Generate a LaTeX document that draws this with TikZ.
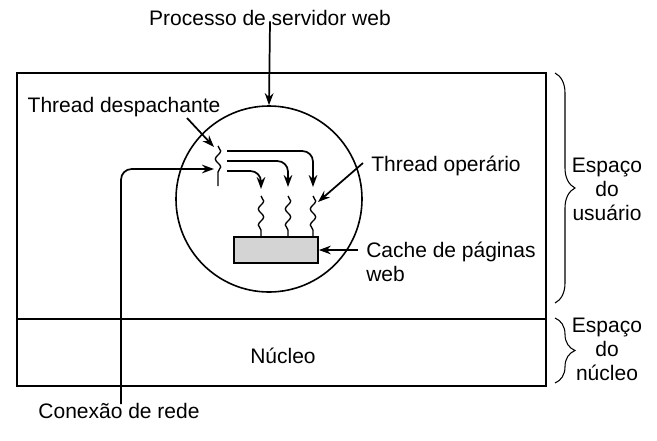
\documentclass[tikz,border=0pt]{standalone}
\usepackage{fontspec}
\setmainfont{Liberation Sans}
\usetikzlibrary{arrows.meta,decorations.pathmorphing,decorations.pathreplacing}
\begin{document}
\begin{tikzpicture}[x=0.75pt,y=-0.75pt,
  lbl/.style={font=\fontsize{15.75}{18}\selectfont, inner sep=0pt},
  arr/.style={line width=1.3pt, -{Stealth[length=9pt,width=6.5pt]}},
  box/.style={line width=1.5pt},
  wavy/.style={line width=1pt, decorate, decoration={snake, segment length=12pt, amplitude=2pt, post length=5pt}},
  brc/.style={line width=0.8pt, decorate, decoration={brace, amplitude=15pt}}
]
\useasboundingbox (0,0) rectangle (657,440);

% outer box
\draw[box] (16.5,73) rectangle (546,386);
\draw[box] (16.5,319) -- (546,319);

% process circle
\node[draw, circle, line width=1.2pt, minimum size=186*0.75pt, inner sep=0pt] (proc) at (269,199) {};

% labels
\node[lbl, anchor=base] (lproc) at (270,25) {Processo de servidor web};
\node[lbl, anchor=base] (ldisp) at (124,112) {Thread despachante};
\node[lbl, anchor=base west] (lwork) at (371,171) {Thread operário};
\node[lbl, anchor=north west, align=left] (lcache) at (366,241.5) {Cache de páginas\\web};
\node[lbl, anchor=base] (lnet) at (119,418) {Conexão de rede};
\node[lbl, anchor=base] (lker) at (283,363) {Núcleo};
\node[lbl, anchor=north, align=center] (luser) at (607,158) {Espaço\\do\\usuário};
\node[lbl, anchor=north, align=center] (lkspace) at (607,318) {Espaço\\do\\núcleo};

% braces
\coordinate (bu1) at (555,73);
\coordinate (bu2) at (555,303);
\coordinate (bk1) at (555,318);
\coordinate (bk2) at (555,383);
\draw[brc] (bu1) -- (bu2);
\draw[brc] (bk1) -- (bk2);

% cache
\node[draw, line width=1.3pt, fill=black!17, minimum width=84*0.75pt, minimum height=26*0.75pt, inner sep=0pt] (cache) at (276,250) {};

% dispatcher thread
\coordinate (d1) at (218,146);
\coordinate (d2) at (218,186);
\draw[wavy] (d1) -- (d2);

% worker threads
\coordinate (w1t) at (261,196); \coordinate (w1b) at (261,237);
\coordinate (w2t) at (288,196); \coordinate (w2b) at (288,237);
\coordinate (w3t) at (313,196); \coordinate (w3b) at (313,237);
\draw[wavy] (w1t) -- (w1b);
\draw[wavy] (w2t) -- (w2b);
\draw[wavy] (w3t) -- (w3b);

% dispatch arrows
\coordinate (s1) at (227,151);
\coordinate (s2) at (227,161);
\coordinate (s3) at (227,171);
\coordinate (e1) at (313,187);
\coordinate (e2) at (288,187);
\coordinate (e3) at (261,189);
\draw[arr, rounded corners=8pt] (s1) -| (e1);
\draw[arr, rounded corners=8pt] (s2) -| (e2);
\draw[arr, rounded corners=8pt] (s3) -| (e3);

% label arrows
\draw[arr] (lproc.south) ++(0,-4) coordinate (pa) (pa) -- (proc.north);
\coordinate (da) at (187,118);
\coordinate (dt) at (214,147);
\draw[arr] (da) -- (dt);
\coordinate (wa) at (363,163);
\coordinate (wt) at (318,202);
\draw[arr] (wa) -- (wt);
\coordinate (ca) at (358,250);
\draw[arr] (ca) -- (cache.east);

% network connection
\coordinate (n0) at (121,404);
\coordinate (nt) at (214,169);
\draw[arr, rounded corners=8pt] (n0) |- (nt);
\end{tikzpicture}
\end{document}
